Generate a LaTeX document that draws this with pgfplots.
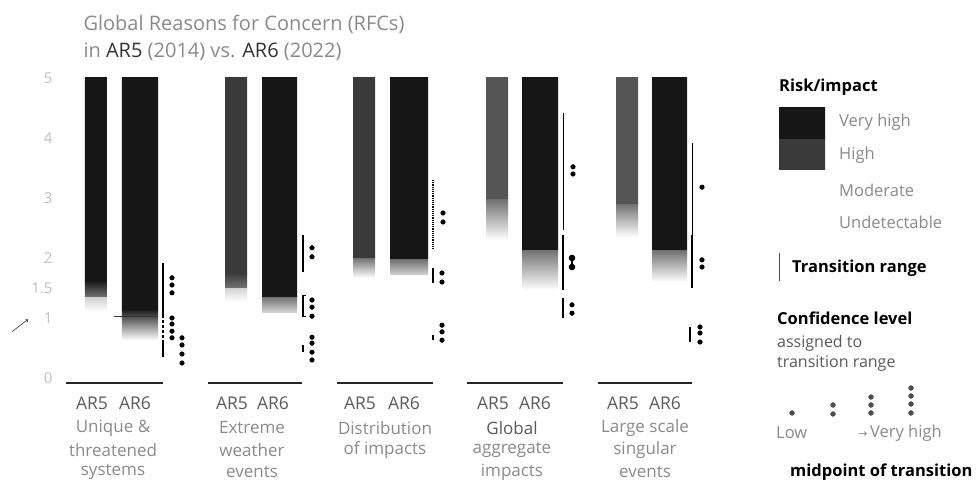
\documentclass[border=0pt]{standalone}
\usepackage{pgfplots}
\pgfplotsset{compat=1.18}
\usepackage{fontspec}
\setmainfont{Open Sans}
\newfontfamily\djv{DejaVu Sans}
\definecolor{vh}{HTML}{161616}
\definecolor{hi}{HTML}{727272}
\definecolor{mo}{HTML}{D2D2D2}
\definecolor{afive}{HTML}{3A3A3A}
\definecolor{afour}{HTML}{555555}
\definecolor{txt}{HTML}{8A8A8A}
\definecolor{txtd}{HTML}{5A5A5A}
% segment: x1 x2 ybottom ytop topcolor bottomcolor
\newcommand{\seg}[6]{\addplot[draw=none, top color=#5, bottom color=#6, forget plot] coordinates {(#1,#3) (#2,#3) (#2,#4) (#1,#4) (#1,#3)};}
\newcommand{\trl}[4][solid]{\addplot[black, line width=1.2pt, #1, forget plot] coordinates {(#2,#3) (#2,#4)};}
\newcommand{\cdts}[1]{\addplot[only marks, mark=*, mark size=2.3pt, black, forget plot] coordinates {#1};}
\begin{document}
\begin{tikzpicture}
\begin{axis}[
  scale only axis, width=640pt, height=308.4pt,
  xmin=60, xmax=700, ymin=-0.12, ymax=5.02,
  clip=false,
  axis line style={draw=none}, tick style={draw=none},
  xtick=\empty,
  ytick={0,1,1.5,2,3,4,5},
  yticklabels={0,1,1.5,2,3,4,5},
  /pgf/number format/assume math mode=true,
  yticklabel style={font=\fontsize{15}{15}\selectfont, text=gray!50, xshift=-4pt},
]
% ---- Group 1: Unique & threatened systems
\seg{85}{107}{1.63}{5}{vh}{vh}
\seg{85}{107}{1.35}{1.63}{vh}{hi}
\seg{85}{107}{1.10}{1.35}{mo}{white}
\seg{122}{158}{1.15}{5}{vh}{vh}
\seg{122}{158}{0.95}{1.15}{vh}{hi}
\seg{122}{158}{0.63}{0.95}{hi}{white}
\addplot[black!80, line width=0.8pt, forget plot] coordinates {(114,1.03) (158,1.03)};
% ---- Group 2: Extreme weather events
\seg{225}{247}{1.75}{5}{afive}{afive}
\seg{225}{247}{1.50}{1.75}{afive}{hi}
\seg{225}{247}{1.27}{1.50}{mo}{white}
\seg{262}{297}{1.35}{5}{vh}{vh}
\seg{262}{297}{1.10}{1.35}{hi}{mo}
% ---- Group 3: Distribution of impacts
\seg{353}{375}{2.00}{5}{afive}{afive}
\seg{353}{375}{1.67}{2.00}{hi}{white}
\seg{390}{428}{1.97}{5}{vh}{vh}
\seg{390}{428}{1.72}{1.97}{hi}{mo}
% ---- Group 4: Global aggregate impacts
\seg{486}{508}{2.97}{5}{afour}{afour}
\seg{486}{508}{2.30}{2.97}{hi}{white}
\seg{522}{558}{2.13}{5}{vh}{vh}
\seg{522}{558}{1.47}{2.13}{hi}{white}
% ---- Group 5: Large scale singular events
\seg{616}{638}{2.90}{5}{afour}{afour}
\seg{616}{638}{2.35}{2.90}{hi}{white}
\seg{652}{687}{2.13}{5}{vh}{vh}
\seg{652}{687}{1.60}{2.13}{hi}{white}
% ---- baselines
\addplot[black!85, line width=1.6pt, forget plot] coordinates {(66,-0.083) (163,-0.083)};
\addplot[black!85, line width=1.6pt, forget plot] coordinates {(208,-0.083) (302,-0.083)};
\addplot[black!85, line width=1.6pt, forget plot] coordinates {(337,-0.083) (433,-0.083)};
\addplot[black!85, line width=1.6pt, forget plot] coordinates {(467,-0.083) (563,-0.083)};
\addplot[black!85, line width=1.6pt, forget plot] coordinates {(598,-0.083) (692,-0.083)};
% ---- transition ranges and confidence dots
\trl{163}{1.92}{1.05}
\trl[densely dashed]{163}{1.05}{0.35}
\trl{163}{0.58}{0.35}
\cdts{(172,1.67) (172,1.55) (172,1.42)}
\cdts{(172,1.00) (172,0.90) (172,0.78) (172,0.67)}
\cdts{(182,0.67) (182,0.55) (182,0.40) (182,0.25)}
\trl{303}{2.38}{1.77}
\trl{303}{1.38}{1.02}
\addplot[black, line width=1pt, forget plot] coordinates {(306,1.38) (303,1.38)};
\addplot[black, line width=1pt, forget plot] coordinates {(303,1.02) (306,1.02)};
\trl{303}{0.55}{0.43}
\cdts{(312,2.17) (312,2.02)}
\cdts{(312,1.30) (312,1.18) (312,1.03)}
\cdts{(312,0.68) (312,0.58) (312,0.43) (312,0.30)}
\trl[densely dotted]{433}{3.30}{2.13}
\trl{433}{1.83}{1.58}
\trl{433}{0.72}{0.63}
\cdts{(443,2.75) (443,2.60)}
\cdts{(442,1.75) (442,1.60)}
\cdts{(442,0.88) (442,0.77) (442,0.63)}
\addplot[black, line width=0.6pt, forget plot] coordinates {(563,4.42) (563,2.47)};
\addplot[black, line width=1.8pt, forget plot] coordinates {(563,2.38) (563,1.47)};
\trl{563}{1.33}{1.00}
\cdts{(573,3.52) (573,3.40)}
\addplot[black, line width=1.8pt, mark=*, mark size=2.3pt, forget plot] coordinates {(572,2.00) (572,1.85)};
\cdts{(572,1.22) (572,1.08)}
\addplot[black, line width=0.8pt, forget plot] coordinates {(692,3.92) (692,2.38)};
\addplot[black, line width=1.4pt, forget plot] coordinates {(692,2.38) (692,1.50)};
\trl{690}{0.85}{0.60}
\cdts{(702,3.18)}
\cdts{(702,1.97) (702,1.85)}
\cdts{(700,0.85) (700,0.75) (700,0.60)}
% ---- legend swatches, transition bar and confidence dots
\seg{779}{825}{3.983}{4.5}{vh}{vh}
\seg{779}{825}{3.467}{3.967}{afive}{afive}
\addplot[black!70, line width=0.8pt, forget plot] coordinates {(779,2.083) (779,1.617)};
\addplot[only marks, mark=*, mark size=2.4pt, black!70, forget plot] coordinates {(792,-0.583) (833,-0.45) (833,-0.6) (871,-0.317) (871,-0.45) (871,-0.583) (911,-0.167) (911,-0.3) (911,-0.433) (911,-0.583)};
% ---- annotation arrow
\draw[->, black!70, line width=0.7pt] (axis cs:12,0.77) -- (axis cs:28,0.98);
% ---- title
\node[anchor=west, text=txt, font=\fontsize{20}{20}\selectfont] at (axis cs:80,5.9) {Global Reasons for Concern (RFCs)};
\node[anchor=west, text=txt, font=\fontsize{20}{20}\selectfont] at (axis cs:80,5.433) {in \textcolor{black!80}{AR5} (2014) vs. \textcolor{black!80}{AR6} (2022)};
% ---- group labels
\begin{scope}[every node/.style={text=txtd, font=\fontsize{17.5}{17.5}\selectfont}]
\node at (axis cs:92,-0.417) {AR5};
\node at (axis cs:135,-0.417) {AR6};
\node at (axis cs:232,-0.417) {AR5};
\node at (axis cs:273,-0.417) {AR6};
\node at (axis cs:360,-0.417) {AR5};
\node at (axis cs:404,-0.417) {AR6};
\node at (axis cs:493,-0.417) {AR5};
\node at (axis cs:535,-0.417) {AR6};
\node at (axis cs:623,-0.417) {AR5};
\node at (axis cs:665,-0.417) {AR6};
\end{scope}
\begin{scope}[every node/.style={text=txt, font=\fontsize{17}{17}\selectfont}]
\node at (axis cs:113,-0.833) {Unique \&};
\node at (axis cs:113,-1.200) {threatened};
\node at (axis cs:113,-1.567) {systems};
\node at (axis cs:252,-0.833) {Extreme};
\node at (axis cs:252,-1.200) {weather};
\node at (axis cs:252,-1.567) {events};
\node at (axis cs:385,-0.833) {Distribution};
\node at (axis cs:385,-1.200) {of impacts};
\node[text=black!65] at (axis cs:512,-0.833) {Global};
\node at (axis cs:512,-1.200) {aggregate};
\node at (axis cs:512,-1.567) {impacts};
\node at (axis cs:645,-0.833) {Large scale};
\node at (axis cs:645,-1.200) {singular};
\node at (axis cs:645,-1.567) {events};
\end{scope}
% ---- legend text
\node[anchor=west, font=\bfseries\fontsize{16.5}{16.5}\selectfont, inner sep=0pt] at (axis cs:779,4.85) {Risk/impact};
\begin{scope}[every node/.style={anchor=west, text=txt, inner sep=0pt, font=\fontsize{16.5}{16.5}\selectfont}]
\node at (axis cs:839,4.267) {Very high};
\node at (axis cs:839,3.717) {High};
\node at (axis cs:839,3.133) {Moderate};
\node at (axis cs:839,2.600) {Undetectable};
\end{scope}
\node[anchor=west, font=\bfseries\fontsize{16.5}{16.5}\selectfont, inner sep=0pt] at (axis cs:792,1.833) {Transition range};
\node[anchor=west, font=\bfseries\fontsize{16.5}{16.5}\selectfont, inner sep=0pt] at (axis cs:777,1.0) {Confidence level};
\node[anchor=west, text=txtd, font=\fontsize{16}{16}\selectfont, inner sep=0pt] at (axis cs:777,0.583) {assigned to};
\node[anchor=west, text=txtd, font=\fontsize{16}{16}\selectfont, inner sep=0pt] at (axis cs:777,0.233) {transition range};
\node[anchor=west, text=txt, font=\fontsize{16.5}{16.5}\selectfont, inner sep=0pt] at (axis cs:776,-0.917) {Low};
\node[anchor=west, text=txt, font=\fontsize{16.5}{16.5}\selectfont, inner sep=0pt] at (axis cs:858,-0.917) {{\djv\fontsize{11}{11}\selectfont →}\,Very high};
\node[anchor=west, font=\bfseries\fontsize{16.5}{16.5}\selectfont, inner sep=0pt] at (axis cs:790,-1.567) {midpoint of transition};
% ---- bounding box of the whole figure
\path (axis cs:0,6.3) rectangle (axis cs:980,-1.8833);
\end{axis}
\end{tikzpicture}
\end{document}
